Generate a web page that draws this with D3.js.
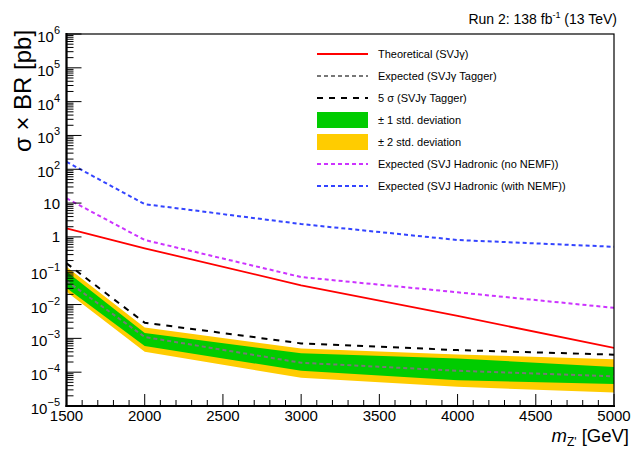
<!DOCTYPE html>
<html>
<head>
<meta charset="utf-8">
<script src="https://cdn.jsdelivr.net/npm/d3@7"></script>
<style>
  html, body { margin: 0; padding: 0; background: #fff; }
  svg { display: block; font-family: "Liberation Sans", Arial, Helvetica, sans-serif; }
</style>
</head>
<body>
<svg id="chart" width="631" height="449"></svg>
<script>
// ---- data ----
const masses = [1500, 2000, 3000, 4000, 5000];
const theory = [1.8, 0.46, 0.037, 0.0046, 0.00052];
const expTagger = [0.05, 0.0011, 0.00019, 0.00011, 0.000075];
const fiveSigma = [0.166, 0.0029, 0.00071, 0.00045, 0.00033];
const band1Up = [0.095, 0.00145, 0.00036, 0.000255, 0.000143];
const band1Down = [0.031, 0.00059, 0.00011, 0.000058, 0.000045];
const band2Up = [0.13, 0.0021, 0.0005, 0.000334, 0.00024];
const band2Down = [0.024, 0.0004, 0.000068, 0.000037, 0.000025];
const hadNoNEMF = [13.8, 0.81, 0.065, 0.023, 0.008];
const hadNEMF = [166, 9.3, 2.4, 0.81, 0.51];
const xTickValues = [1500, 2000, 2500, 3000, 3500, 4000, 4500, 5000];
const yTickExponents = [-5, -4, -3, -2, -1, 0, 1, 2, 3, 4, 5, 6];
const legendLabels = [
  "Theoretical (SVJ\u03B3)",
  "Expected (SVJ\u03B3 Tagger)",
  "5 \u03C3 (SVJ\u03B3 Tagger)",
  "\u00B1 1 std. deviation",
  "\u00B1 2 std. deviation",
  "Expected (SVJ Hadronic (no NEMF))",
  "Expected (SVJ Hadronic (with NEMF))"
];

// ---- layout ----
const L = 66.5, R = 614, T = 34, B = 406;
const svg = d3.select("#chart");
const x = d3.scaleLinear().domain([1500, 5000]).range([L, R]);
const y = d3.scaleLog().domain([1e-5, 1e6]).range([B, T]);

const COL = {
  red: "#ff0000", gray: "#777777", black: "#000000",
  green: "#00cc00", yellow: "#ffcc00", magenta: "#cc33ff", blue: "#3344ff"
};

svg.append("defs").append("clipPath").attr("id", "clip")
  .append("rect").attr("x", L).attr("y", T).attr("width", R - L).attr("height", B - T);

const plot = svg.append("g").attr("clip-path", "url(#clip)");

const idx = d3.range(masses.length);
const area = (lo, hi) => d3.area().x(i => x(masses[i])).y0(i => y(lo[i])).y1(i => y(hi[i]))(idx);
const line = (vals) => d3.line().x(i => x(masses[i])).y(i => y(vals[i]))(idx);

plot.append("path").attr("d", area(band2Down, band2Up)).attr("fill", COL.yellow);
plot.append("path").attr("d", area(band1Down, band1Up)).attr("fill", COL.green);

const series = [
  { v: expTagger, c: COL.gray, w: 2, dash: "4,3" },
  { v: fiveSigma, c: COL.black, w: 2, dash: "6,6" },
  { v: theory, c: COL.red, w: 1.8, dash: null },
  { v: hadNoNEMF, c: COL.magenta, w: 2, dash: "4,3" },
  { v: hadNEMF, c: COL.blue, w: 2, dash: "4,3" }
];
series.forEach(s => {
  plot.append("path").attr("d", line(s.v)).attr("fill", "none")
    .attr("stroke", s.c).attr("stroke-width", s.w)
    .attr("stroke-dasharray", s.dash);
});

// ---- frame ----
svg.append("rect").attr("x", L).attr("y", T).attr("width", R - L).attr("height", B - T)
  .attr("fill", "none").attr("stroke", "#000").attr("stroke-width", 1.2);

// ---- x axis (ticks inward) ----
const gx = svg.append("g");
d3.range(1500, 5001, 100).forEach(v => {
  const major = v % 500 === 0;
  gx.append("line").attr("x1", x(v)).attr("x2", x(v))
    .attr("y1", B).attr("y2", B - (major ? 12 : 6))
    .attr("stroke", "#000").attr("stroke-width", 1);
});
xTickValues.forEach(v => {
  gx.append("text").attr("x", x(v)).attr("y", 421).attr("text-anchor", "middle")
    .attr("font-size", 15).text(v);
});
svg.append("line").attr("x1", L - 1).attr("x2", R + 1).attr("y1", B).attr("y2", B)
  .attr("stroke", "#000").attr("stroke-width", 2.2);

// ---- y axis (log, ticks inward) ----
const gy = svg.append("g");
for (let e = -5; e < 6; e++) {
  for (let m = 2; m <= 9; m++) {
    const v = m * Math.pow(10, e);
    gy.append("line").attr("x1", L).attr("x2", L + 7)
      .attr("y1", y(v)).attr("y2", y(v)).attr("stroke", "#000").attr("stroke-width", 1);
  }
}
yTickExponents.forEach(e => {
  const v = Math.pow(10, e);
  gy.append("line").attr("x1", L).attr("x2", L + 15)
    .attr("y1", y(v)).attr("y2", y(v)).attr("stroke", "#000").attr("stroke-width", 1);
  const t = gy.append("text").attr("x", 60).attr("text-anchor", "end").attr("font-size", 15);
  if (e === 0) {
    t.attr("y", y(v) + 5.5).text("1");
  } else if (e === 1) {
    t.attr("y", y(v) + 6).text("10");
  } else {
    t.attr("y", y(v) + 8);
    t.append("tspan").text("10");
    t.append("tspan").attr("dy", -8).attr("font-size", 11)
      .text(e < 0 ? "\u2212" + (-e) : String(e));
  }
});
svg.append("line").attr("x1", L).attr("x2", L).attr("y1", T - 1).attr("y2", B + 1)
  .attr("stroke", "#000").attr("stroke-width", 2.2);

// ---- axis titles ----
const xt = svg.append("text").attr("x", 629).attr("y", 442).attr("text-anchor", "end").attr("font-size", 18.5);
xt.append("tspan").attr("font-style", "italic").text("m");
xt.append("tspan").attr("font-size", 12).attr("dy", 4).text("Z'");
xt.append("tspan").attr("dy", -4).text(" [GeV]");

svg.append("text").attr("transform", "translate(31,91) rotate(-90)")
  .attr("text-anchor", "middle").attr("font-size", 24).text("\u03C3 \u00D7 BR [pb]");

const rt = svg.append("text").attr("x", 617).attr("y", 24).attr("text-anchor", "end").attr("font-size", 14);
rt.append("tspan").text("Run 2: 138 fb");
rt.append("tspan").attr("font-size", 9).attr("dy", -6).text("-1");
rt.append("tspan").attr("dy", 6).text(" (13 TeV)");

// ---- legend ----
const legendStyles = [
  { type: "line", c: COL.red, w: 1.8, dash: null },
  { type: "line", c: COL.gray, w: 2, dash: "4,3" },
  { type: "line", c: COL.black, w: 2, dash: "6,6" },
  { type: "box", c: COL.green },
  { type: "box", c: COL.yellow },
  { type: "line", c: COL.magenta, w: 2, dash: "4,3" },
  { type: "line", c: COL.blue, w: 2, dash: "4,3" }
];
const lg = svg.append("g");
legendLabels.forEach((lab, i) => {
  const cy = 54 + i * 22;
  const st = legendStyles[i];
  if (st.type === "box") {
    lg.append("rect").attr("x", 317).attr("y", cy - 8).attr("width", 51).attr("height", 16).attr("fill", st.c);
  } else {
    lg.append("line").attr("x1", 317).attr("x2", 368).attr("y1", cy).attr("y2", cy)
      .attr("stroke", st.c).attr("stroke-width", st.w).attr("stroke-dasharray", st.dash);
  }
  lg.append("text").attr("x", 378).attr("y", cy + 4).attr("font-size", 11).text(lab);
});
</script>
</body>
</html>
